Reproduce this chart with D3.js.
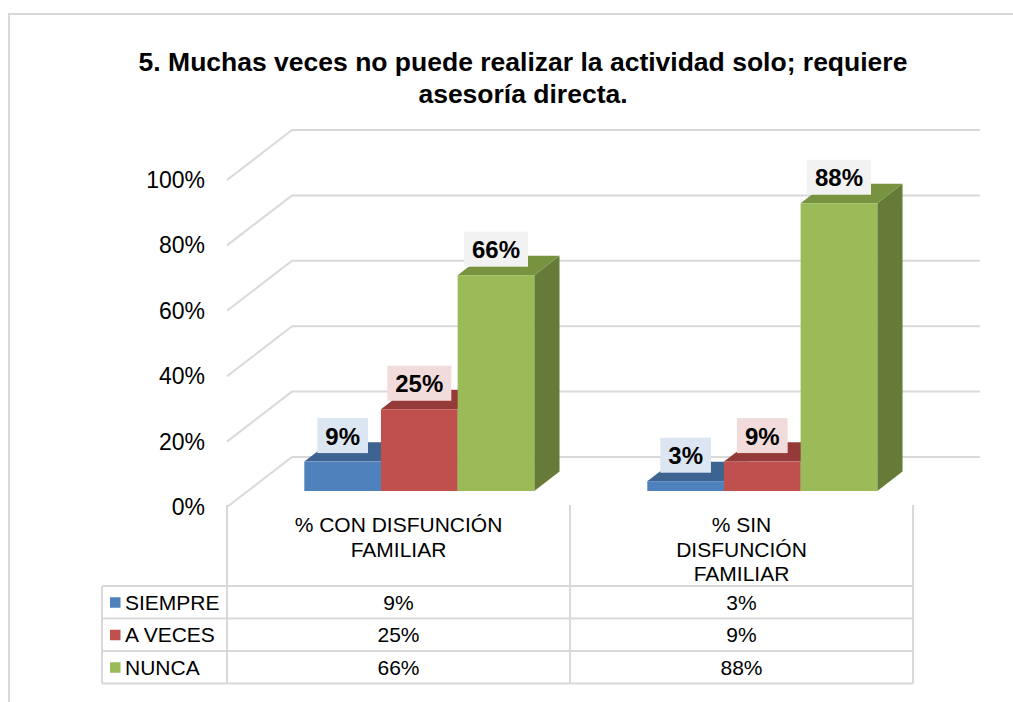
<!DOCTYPE html>
<html>
<head>
<meta charset="utf-8">
<script src="https://cdn.jsdelivr.net/npm/d3@7"></script>
<style>
  body { margin: 0; background: #fff; }
  text { font-family: Arial, "Liberation Sans", sans-serif; }
</style>
</head>
<body>
<div id="chart"></div>
<script>
// Data
var categories = ["% CON DISFUNCIÓN FAMILIAR", "% SIN DISFUNCIÓN FAMILIAR"];
var categoryLines = [["% CON DISFUNCIÓN", "FAMILIAR"], ["% SIN", "DISFUNCIÓN", "FAMILIAR"]];
var seriesNames = ["SIEMPRE", "A VECES", "NUNCA"];
var siempre = [0.09, 0.03];
var aVeces = [0.25, 0.09];
var nunca = [0.66, 0.88];
var yTicks = [0, 0.2, 0.4, 0.6, 0.8, 1.0];
var titleLines = ["5. Muchas veces no puede realizar la actividad solo; requiere", "asesoría directa."];

var seriesValues = [siempre, aVeces, nunca];

// Colours per series: front, top, side, label box
var colors = [
  { front: "#4f81bd", top: "#3d6491", side: "#385d8a", box: "#dce6f2" },
  { front: "#c0504d", top: "#943b39", side: "#8c3836", box: "#f2dcdb" },
  { front: "#9bbb59", top: "#77933f", side: "#667b37", box: "#f2f2f2" }
];

var svgWidth = 1013;
var svgHeight = 702;

// Plot area (front plane of the 3D box)
var plotLeft = 227, plotRight = 913;
var plotBottom = 507, plotTop = 180;
// depth projection: one unit of depth moves up 1px and right 1.3px
var depthRatio = 1.3;
var floorDepth = 50;
var barFront = 16;
var barDepth = 19.4;
var gridRight = 980;

var pct = d3.format(".0%");

var svg = d3.select("#chart")
  .append("svg")
  .attr("width", svgWidth)
  .attr("height", svgHeight);

svg.append("rect")
  .attr("width", svgWidth)
  .attr("height", svgHeight)
  .attr("fill", "#fff");

// outer chart frame (only top and left visible)
svg.append("path")
  .attr("d", "M9,702 V14 H1013")
  .attr("fill", "none")
  .attr("stroke", "#d9d9d9")
  .attr("stroke-width", 2);

function proj(x, y, d) {
  return [x + d * depthRatio, y - d];
}

var xScale = d3.scaleBand()
  .domain(categories)
  .range([plotLeft, plotRight]);

var innerWidth = 230;
var xInner = d3.scaleBand()
  .domain(seriesNames)
  .range([(xScale.bandwidth() - innerWidth) / 2, (xScale.bandwidth() + innerWidth) / 2]);

var yScale = d3.scaleLinear()
  .domain([0, 1])
  .range([plotBottom, plotTop]);

// Title
titleLines.forEach(function(line, i) {
  svg.append("text")
    .attr("x", 523)
    .attr("y", 71 + i * 32)
    .attr("text-anchor", "middle")
    .attr("font-size", "26.5px")
    .attr("font-weight", "bold")
    .text(line);
});

// Gridlines: side wall diagonal + back wall horizontal
svg.append("g")
  .selectAll("path")
  .data(yTicks)
  .enter()
  .append("path")
  .attr("d", function(t) {
    var y = yScale(t);
    var back = proj(plotLeft, y, floorDepth);
    return "M" + plotLeft + "," + y + " L" + back[0] + "," + back[1] + " H" + gridRight;
  })
  .attr("fill", "none")
  .attr("stroke", "#d9d9d9")
  .attr("stroke-width", 2);

// Y axis labels
svg.append("g")
  .selectAll("text")
  .data(yTicks)
  .enter()
  .append("text")
  .attr("x", 205)
  .attr("y", d => yScale(d) + 8)
  .attr("text-anchor", "end")
  .attr("font-size", "23px")
  .attr("fill", "#000")
  .text(d => pct(d));

// Build bar list
var bars = [];
categories.forEach(function(cat, ci) {
  seriesNames.forEach(function(s, si) {
    bars.push({ cat: cat, ci: ci, series: s, si: si, value: seriesValues[si][ci] });
  });
});

var barGrp = svg.append("g");

bars.forEach(function(b) {
  var c = colors[b.si];
  var x0 = xScale(b.cat) + xInner(b.series);
  var x1 = x0 + xInner.bandwidth();
  var yb = yScale(0);
  var yt = yScale(b.value);
  var f0 = proj(x0, yt, barFront), f1 = proj(x1, yt, barFront);
  var fb1 = proj(x1, yb, barFront);
  var k0 = proj(x0, yt, barFront + barDepth), k1 = proj(x1, yt, barFront + barDepth);
  var kb1 = proj(x1, yb, barFront + barDepth);

  // side face
  barGrp.append("path")
    .attr("d", "M" + [f1, k1, kb1, fb1].map(p => p.join(",")).join(" L") + " Z")
    .attr("fill", c.side);
  // top face
  barGrp.append("path")
    .attr("d", "M" + [f0, k0, k1, f1].map(p => p.join(",")).join(" L") + " Z")
    .attr("fill", c.top);
  // front face
  barGrp.append("rect")
    .attr("x", f0[0])
    .attr("y", f0[1])
    .attr("width", x1 - x0)
    .attr("height", yb - yt)
    .attr("fill", c.front);
});

// Data labels
var labelGrp = svg.append("g");
bars.forEach(function(b) {
  var x0 = xScale(b.cat) + xInner(b.series);
  var p = proj(x0 + xInner.bandwidth() / 2, yScale(b.value), barFront);
  var cy = p[1] - 26;
  var g = labelGrp.append("g");
  var rect = g.append("rect").attr("fill", colors[b.si].box);
  var txt = g.append("text")
    .attr("x", p[0])
    .attr("y", cy + 9)
    .attr("text-anchor", "middle")
    .attr("font-size", "24px")
    .attr("font-weight", "bold")
    .text(pct(b.value));
  var w = txt.node().getComputedTextLength() + 16;
  rect.attr("x", p[0] - w / 2)
    .attr("y", cy - 17.5)
    .attr("width", w)
    .attr("height", 35);
});

// Data table
var tableLeft = 102;
var headerTop = 505;
var rowTops = [586, 618.5, 651, 683.5];
var tableGrp = svg.append("g")
  .attr("stroke", "#d9d9d9")
  .attr("stroke-width", 2)
  .attr("fill", "none");

rowTops.forEach(function(y) {
  tableGrp.append("line")
    .attr("x1", tableLeft).attr("x2", plotRight)
    .attr("y1", y).attr("y2", y);
});
tableGrp.append("line")
  .attr("x1", tableLeft).attr("x2", tableLeft)
  .attr("y1", rowTops[0]).attr("y2", rowTops[3]);
[plotLeft, xScale(categories[1]), plotRight].forEach(function(x) {
  tableGrp.append("line")
    .attr("x1", x).attr("x2", x)
    .attr("y1", headerTop).attr("y2", rowTops[3]);
});

// Category labels, one text per line
categories.forEach(function(cat, ci) {
  categoryLines[ci].forEach(function(line, i) {
    svg.append("text")
      .attr("x", xScale(cat) + xScale.bandwidth() / 2)
      .attr("y", 532 + i * 24.5)
      .attr("text-anchor", "middle")
      .attr("font-size", "21px")
      .text(line);
  });
});

// Table rows: legend key, name, values
seriesNames.forEach(function(s, si) {
  var cy = (rowTops[si] + rowTops[si + 1]) / 2;
  svg.append("rect")
    .attr("x", 110)
    .attr("y", cy - 5)
    .attr("width", 10.5)
    .attr("height", 10.5)
    .attr("fill", colors[si].front);
  svg.append("text")
    .attr("x", 125)
    .attr("y", cy + 7.5)
    .attr("font-size", "21px")
    .text(s);
  categories.forEach(function(cat, ci) {
    svg.append("text")
      .attr("x", xScale(cat) + xScale.bandwidth() / 2)
      .attr("y", cy + 7.5)
      .attr("text-anchor", "middle")
      .attr("font-size", "21px")
      .text(pct(seriesValues[si][ci]));
  });
});
</script>
</body>
</html>
